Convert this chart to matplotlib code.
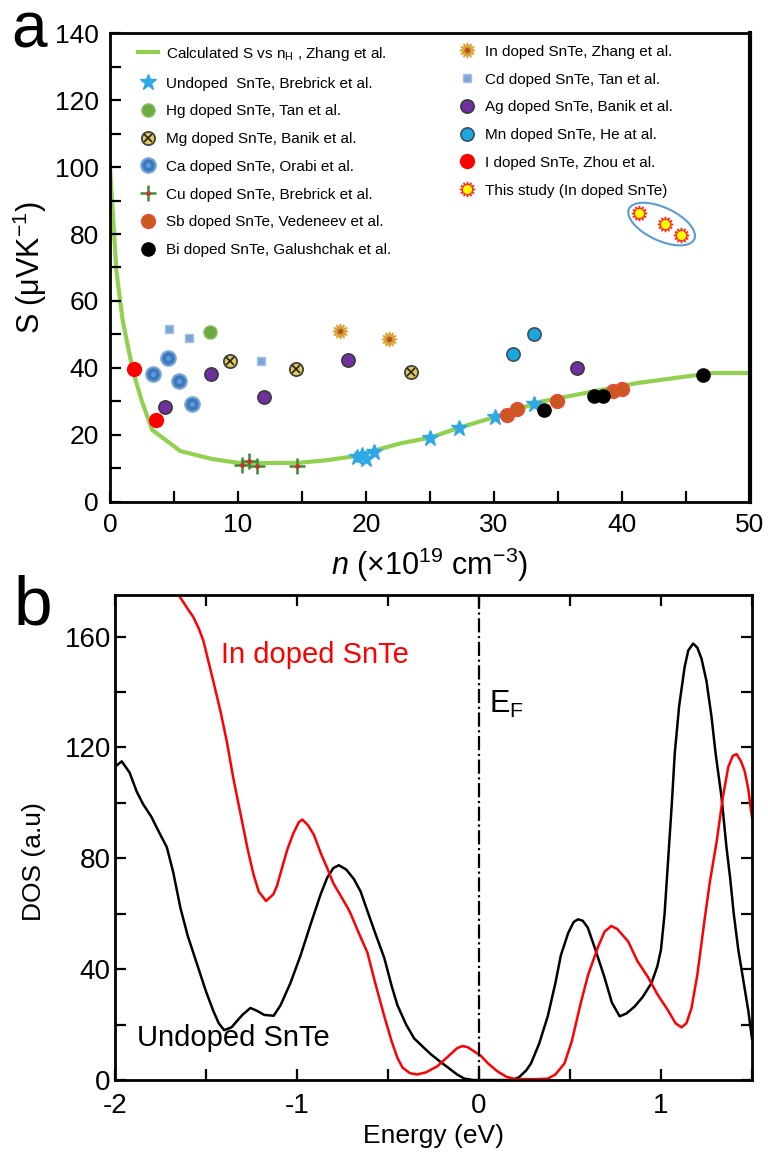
import matplotlib
matplotlib.use("Agg")
import matplotlib.pyplot as plt
from matplotlib.patches import Ellipse
from matplotlib.transforms import ScaledTranslation
from matplotlib.ticker import MultipleLocator
import numpy as np

plt.rcParams['font.family'] = ['Liberation Sans', 'DejaVu Sans']
plt.rcParams['mathtext.fontset'] = 'custom'
plt.rcParams['mathtext.rm'] = 'Liberation Sans'
plt.rcParams['mathtext.it'] = 'Liberation Sans:italic'
plt.rcParams['axes.unicode_minus'] = False

# ---- panel a : Seebeck vs carrier concentration ----
calc_n = [0, 0.5, 1.0, 1.8, 2.5, 3.3, 5.5, 8, 10.2, 12, 14.8, 17, 19, 22.7, 25, 27.3, 30.1, 33.6, 37.5, 41.2, 45.3, 47.1, 49.8]
calc_S = [100, 69, 54, 39, 30, 21.5, 15.2, 12.8, 11.6, 11.6, 11.7, 12.5, 13.6, 17.5, 19.2, 22.2, 25.4, 29.9, 32.8, 35.5, 37.6, 38.5, 38.5]

undoped_n = [19.3, 19.7, 20.0, 20.6, 25.0, 27.3, 30.1, 33.1]
undoped_S = [13.3, 14.0, 12.7, 14.8, 19.0, 22.2, 25.5, 29.2]
hg_n = [7.8]
hg_S = [50.6]
mg_n = [9.4, 14.5, 23.5]
mg_S = [42.1, 39.8, 38.8]
ca_n = [4.5, 3.4, 5.4, 6.4]
ca_S = [43.1, 38.2, 36.2, 29.2]
cu_n = [10.3, 10.9, 11.5, 14.6]
cu_S = [11.0, 12.3, 10.8, 10.8]
sb_n = [31.0, 31.8, 34.9, 39.3, 40.0]
sb_S = [26.0, 27.7, 30.2, 33.1, 33.7]
bi_n = [33.9, 37.8, 38.5, 46.3]
bi_S = [27.4, 31.7, 31.7, 37.9]
in_n = [18.0, 21.8]
in_S = [51.1, 48.7]
cd_n = [4.6, 6.2, 11.8]
cd_S = [51.6, 49.0, 42.1]
ag_n = [4.3, 7.9, 12.0, 18.6, 36.5]
ag_S = [28.4, 38.2, 31.3, 42.3, 39.9]
mn_n = [31.5, 33.1]
mn_S = [44.1, 50.0]
i_n = [1.9, 3.6]
i_S = [39.7, 24.4]
study_n = [41.3, 43.4, 44.6]
study_S = [86.2, 83.0, 79.7]

# ---- panel b : DOS ----
E_undoped = [-2.00, -1.963, -1.92, -1.88, -1.846, -1.80, -1.77, -1.715, -1.68, -1.64, -1.60, -1.55, -1.50,
             -1.46, -1.43, -1.40, -1.36, -1.30, -1.256, -1.22, -1.18, -1.128, -1.09, -1.036, -0.98, -0.926,
             -0.87, -0.834, -0.80, -0.77, -0.73, -0.687, -0.65, -0.613, -0.57, -0.52, -0.48, -0.448, -0.40,
             -0.356, -0.30, -0.264, -0.22, -0.17, -0.12, -0.08, -0.03, 0.10, 0.18, 0.22, 0.26, 0.286, 0.33,
             0.378, 0.42, 0.45, 0.49, 0.52, 0.544, 0.57, 0.598, 0.64, 0.69, 0.73, 0.773, 0.81, 0.855, 0.90,
             0.948, 0.98, 1.00, 1.02, 1.04, 1.06, 1.076, 1.10, 1.13, 1.15, 1.177, 1.20, 1.223, 1.25, 1.278,
             1.30, 1.333, 1.36, 1.38, 1.40, 1.425, 1.45, 1.48, 1.50]
DOS_undoped = [113, 115, 111, 104, 99.6, 95, 91, 84, 75, 62, 52, 42, 32,
               25, 20.5, 18, 19, 23.5, 26, 25, 23.5, 23.2, 27, 35, 45, 56,
               67, 73, 76.5, 77.5, 76, 72.5, 68, 61, 53, 44, 34, 27, 20,
               15, 11.5, 9.3, 7, 4.5, 2, 0.5, 0, 0, 0, 1, 3.5, 6, 13,
               23, 35, 45, 53, 57, 58, 57.5, 55, 47, 37, 28, 23, 24, 26.5, 30,
               35, 41, 47, 60, 80, 100, 118, 135, 149, 155, 157.5, 156, 152, 144, 131,
               118, 102, 84, 73, 60, 47, 37, 25, 15]

E_indoped = [-1.68, -1.65, -1.60, -1.569, -1.54, -1.514, -1.49, -1.46, -1.42, -1.385, -1.35, -1.31, -1.27,
             -1.238, -1.21, -1.17, -1.13, -1.11, -1.08, -1.054, -1.02, -0.99, -0.971, -0.94, -0.907, -0.87,
             -0.834, -0.80, -0.76, -0.72, -0.705, -0.66, -0.613, -0.57, -0.52, -0.48, -0.448, -0.42, -0.38,
             -0.34, -0.29, -0.228, -0.17, -0.12, -0.09, -0.06, -0.03, 0.011, 0.05, 0.10, 0.15, 0.195, 0.30,
             0.378, 0.42, 0.47, 0.51, 0.562, 0.60, 0.654, 0.69, 0.727, 0.76, 0.82, 0.87, 0.93, 0.98, 1.04,
             1.08, 1.113, 1.14, 1.168, 1.20, 1.24, 1.27, 1.306, 1.34, 1.37, 1.395, 1.416, 1.44, 1.46, 1.48,
             1.495, 1.50]
DOS_indoped = [182, 175, 170, 167, 163, 158.5, 152, 144, 133, 122, 109, 96, 83,
               74, 68, 64.6, 67, 70, 77, 83, 89, 93, 94, 92, 88.5, 82,
               76.5, 71, 66.5, 62, 60, 53, 46, 35, 23, 14, 8, 4.5, 2.5,
               2, 2.8, 5, 8.5, 11.5, 12.3, 11.8, 10.5, 8.7, 6, 3.2, 1.2, 0.4, 0.3,
               0.5, 2, 6, 14, 28.5, 38, 48, 53.5, 55.6, 54.5, 50, 43, 37, 31, 25,
               20.5, 19, 20.5, 26, 38, 58, 72, 86, 102, 113, 117, 117.6, 115, 111.5, 105,
               97, 95]

fig = plt.figure(figsize=(7.68, 11.55), dpi=100)
ax = fig.add_axes([0.1432, 0.5654, 0.8333, 0.4060])
ax2 = fig.add_axes([0.1497, 0.0649, 0.8294, 0.4199])

# ---------- panel a ----------
ms = 9.5
h_calc, = ax.plot(calc_n, calc_S, color='#92d050', lw=3, zorder=1)
h_und, = ax.plot(undoped_n, undoped_S, ls='none', marker='*', ms=12, color='#2ea8e6', zorder=3)
h_hg, = ax.plot(hg_n, hg_S, ls='none', marker='o', ms=ms, mfc='#6aaa3f', mec='#8cc063', mew=1, zorder=3)
h_mg1, = ax.plot(mg_n, mg_S, ls='none', marker='o', ms=ms, mfc='#e3c95a', mec='#404040', mew=1.3, zorder=3)
h_mg2, = ax.plot(mg_n, mg_S, ls='none', marker='x', ms=5.5, color='#222222', mew=1.2, zorder=4)
h_ca1, = ax.plot(ca_n, ca_S, ls='none', marker='o', ms=ms + 1, mfc='#3d79ba', mec='#7aa6d9', mew=1.5, zorder=3)
h_ca2, = ax.plot(ca_n, ca_S, ls='none', marker='o', ms=3.5, mfc='#5c9be0', mec='none', zorder=4)
h_cu1, = ax.plot(cu_n, cu_S, ls='none', marker='+', ms=11, color='#3d8b37', mew=1.8, zorder=3)
h_cu2, = ax.plot(cu_n, cu_S, ls='none', marker='o', ms=2.5, color='#d03030', zorder=4)
h_sb, = ax.plot(sb_n, sb_S, ls='none', marker='o', ms=ms, mfc='#c65a1e', mec='#e84a35', mew=1.5, zorder=3)
h_bi, = ax.plot(bi_n, bi_S, ls='none', marker='o', ms=ms, mfc='black', mec='black', zorder=3)
h_in1, = ax.plot(in_n, in_S, ls='none', marker=(12, 1, 0), ms=11, color='#d9a437', zorder=3)
h_in2, = ax.plot(in_n, in_S, ls='none', marker='o', ms=3, color='#b5541b', zorder=4)
h_cd, = ax.plot(cd_n, cd_S, ls='none', marker='s', ms=5.5, mfc='#7ea4d3', mec='#a5c1e6', mew=1, zorder=3)
h_ag, = ax.plot(ag_n, ag_S, ls='none', marker='o', ms=ms, mfc='#7030a0', mec='#3a3a3a', mew=1.2, zorder=3)
h_mn, = ax.plot(mn_n, mn_S, ls='none', marker='o', ms=ms, mfc='#1aa7e0', mec='#3d4f5c', mew=1.2, zorder=3)
h_i, = ax.plot(i_n, i_S, ls='none', marker='o', ms=11, mfc='#ff0000', mec='none', zorder=3)
h_st1, = ax.plot(study_n, study_S, ls='none', marker=(12, 1, 0), ms=11, color='#ff2a1a', zorder=3)
h_st2, = ax.plot(study_n, study_S, ls='none', marker='o', ms=5.5, color='#ffff00', zorder=4)

# ellipse around this study
cx, cy = np.mean(study_n), np.mean(study_S)
ell = Ellipse((0, 0), 0.72, 0.33, angle=-25, fill=False, ec='#5b9bd5', lw=1.5,
              transform=fig.dpi_scale_trans + ScaledTranslation(cx, cy, ax.transData))
ax.add_patch(ell)

leg_kw = dict(frameon=False, fontsize=11, handlelength=1.3, handletextpad=0.5,
              labelspacing=0.9, borderpad=0, borderaxespad=0, loc='upper left')
leg1 = ax.legend([h_calc, h_und, h_hg, (h_mg1, h_mg2), (h_ca1, h_ca2), (h_cu1, h_cu2), h_sb, h_bi],
                 ['Calculated S vs n$_\\mathrm{H}$ , Zhang et al.',
                  'Undoped  SnTe, Brebrick et al.',
                  'Hg doped SnTe, Tan et al.',
                  'Mg doped SnTe, Banik et al.',
                  'Ca doped SnTe, Orabi et al.',
                  'Cu doped SnTe, Brebrick et al.',
                  'Sb doped SnTe, Vedeneev et al.',
                  'Bi doped SnTe, Galushchak et al.'],
                 bbox_to_anchor=(0.044, 0.975), **leg_kw)
ax.add_artist(leg1)
ax.legend([(h_in1, h_in2), h_cd, h_ag, h_mn, h_i, (h_st1, h_st2)],
          ['In doped SnTe, Zhang et al.',
           'Cd doped SnTe, Tan et al.',
           'Ag doped SnTe, Banik et al.',
           'Mn doped SnTe, He at al.',
           'I doped SnTe, Zhou et al.',
           'This study (In doped SnTe)'],
          bbox_to_anchor=(0.543, 0.975), **leg_kw)

ax.set_xlim(0, 50)
ax.set_ylim(0, 140)
ax.xaxis.set_major_locator(MultipleLocator(10))
ax.xaxis.set_minor_locator(MultipleLocator(5))
ax.yaxis.set_major_locator(MultipleLocator(20))
ax.yaxis.set_minor_locator(MultipleLocator(10))
ax.tick_params(which='both', direction='in', length=8, width=1.6, labelsize=19, pad=8)
for s in ax.spines.values():
    s.set_linewidth(2)
ax.spines['right'].set_linewidth(3)
ax.set_ylabel('S (μVK$^{-1}$)', fontsize=22, labelpad=4)
ax.set_xlabel('$n$ (×10$^{19}$ cm$^{-3}$)', fontsize=22, labelpad=6)
fig.text(0.015, 0.959, 'a', fontsize=46, va='baseline', ha='left')

# ---------- panel b ----------
ax2.plot(E_undoped, DOS_undoped, color='black', lw=1.8)
ax2.plot(E_indoped, DOS_indoped, color='#ff0000', lw=1.8)
ax2.axvline(0, color='black', ls='-.', lw=1.6)
ax2.set_xlim(-2, 1.5)
ax2.set_ylim(0, 175)
ax2.xaxis.set_major_locator(MultipleLocator(1))
ax2.xaxis.set_minor_locator(MultipleLocator(0.5))
ax2.yaxis.set_major_locator(MultipleLocator(40))
ax2.yaxis.set_minor_locator(MultipleLocator(20))
ax2.tick_params(which='both', direction='in', length=8, width=1.6, labelsize=20, pad=3,
                top=True, right=True)
ax2.tick_params(axis='x', pad=9)
for s in ax2.spines.values():
    s.set_linewidth(2)
ax2.set_ylabel('DOS (a.u)', fontsize=19)
ax2.yaxis.set_label_coords(-0.108, 0.45)
ax2.set_xlabel('Energy (eV)', fontsize=19, labelpad=4)
ax2.text(-1.42, 150.6, 'In doped SnTe', color='#ff0000', fontsize=21, va='baseline')
ax2.text(-1.879, 12.3, 'Undoped SnTe', color='black', fontsize=21, va='baseline')
ax2.text(0.055, 132.5, 'E$_\\mathrm{F}$', color='black', fontsize=22, va='baseline')
fig.text(0.018, 0.459, 'b', fontsize=50, va='baseline', ha='left')

fig.savefig('out.png', dpi=100)
